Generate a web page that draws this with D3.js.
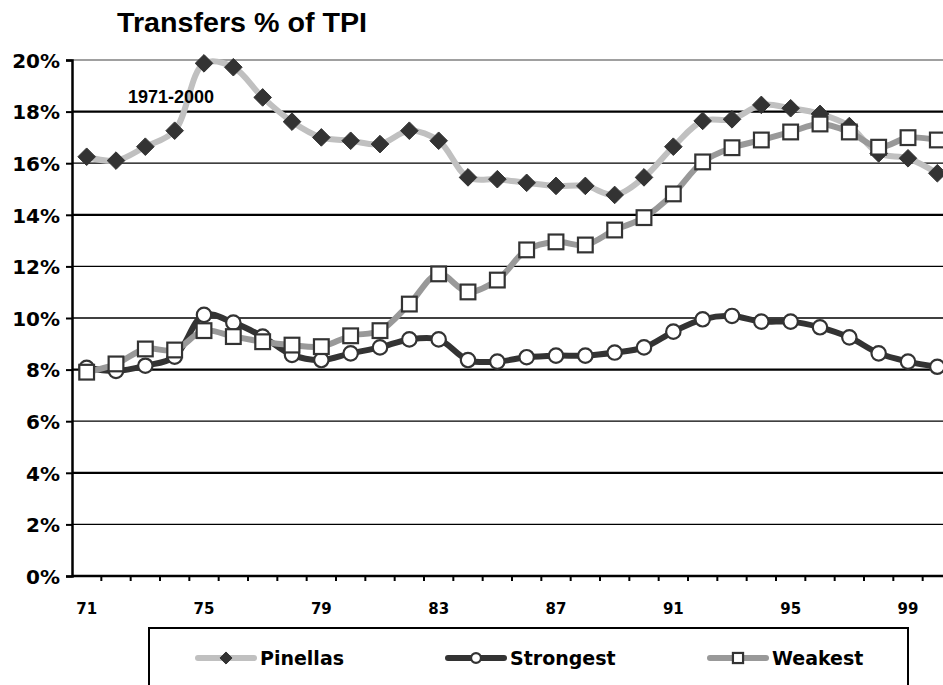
<!DOCTYPE html>
<html>
<head>
<meta charset="utf-8">
<script src="https://cdn.jsdelivr.net/npm/d3@7"></script>
<style>
  html, body { margin: 0; padding: 0; background: #fff; }
  svg { display: block; }
</style>
</head>
<body>
<svg id="chart" width="943" height="685"></svg>
<script>
// Years on the category axis (1971-2000) and which ones get a label
const years = d3.range(1971, 2001);
const yearLabels = [1971, 1975, 1979, 1983, 1987, 1991, 1995, 1999];
const yTicks = [0, 2, 4, 6, 8, 10, 12, 14, 16, 18, 20];

// Transfers as a percentage of total personal income
const pinellas = [16.25, 16.10, 16.64, 17.26, 19.87, 19.72, 18.55, 17.61, 17.00, 16.87,
                  16.74, 17.26, 16.87, 15.45, 15.38, 15.24, 15.12, 15.12, 14.77, 15.45,
                  16.64, 17.64, 17.70, 18.26, 18.13, 17.91, 17.44, 16.38, 16.19, 15.61];
const strongest = [8.07, 7.95, 8.15, 8.50, 10.12, 9.82, 9.28, 8.57, 8.37, 8.63,
                   8.86, 9.17, 9.17, 8.37, 8.31, 8.48, 8.54, 8.54, 8.66, 8.86,
                   9.47, 9.95, 10.08, 9.86, 9.86, 9.64, 9.25, 8.63, 8.31, 8.11];
const weakest = [7.90, 8.22, 8.80, 8.76, 9.51, 9.28, 9.08, 8.95, 8.89, 9.31,
                 9.51, 10.54, 11.71, 11.01, 11.47, 12.64, 12.95, 12.83, 13.41, 13.89,
                 14.81, 16.05, 16.60, 16.90, 17.21, 17.52, 17.21, 16.62, 16.99, 16.90];

const svg = d3.select("#chart");
const plotLeft = 72, plotRight = 952, plotTop = 60, plotBottom = 576;

const x = d3.scaleBand().domain(years).range([plotLeft, plotRight]).padding(0);
const y = d3.scaleLinear().domain([0, 20]).range([plotBottom, plotTop]);
const cx = d => x(d) + x.bandwidth() / 2;

const labelFont = "'DejaVu Sans', Verdana, sans-serif";
const titleFont = "'Liberation Sans', Arial, Helvetica, sans-serif";

// Horizontal gridlines
const thick = new Set([4, 8, 14, 18]);
svg.append("g").selectAll("line")
  .data(yTicks.filter(t => t > 0))
  .join("line")
  .attr("x1", plotLeft).attr("x2", 943)
  .attr("y1", d => y(d)).attr("y2", d => y(d))
  .attr("stroke", d => d === 20 ? "#808080" : "#000")
  .attr("stroke-width", d => d === 20 ? 1.5 : (thick.has(d) ? 2.2 : 1.3));

// Y axis with percentage labels
const yAxis = d3.axisLeft(y).tickValues(yTicks).tickSize(6).tickPadding(6)
  .tickFormat(d => d + "%");
const gy = svg.append("g").attr("transform", `translate(${plotLeft},0)`).call(yAxis);
gy.select(".domain").attr("stroke", "#000").attr("stroke-width", 2.5);
gy.selectAll(".tick line").attr("stroke", "#000").attr("stroke-width", 2);
gy.selectAll(".tick text")
  .attr("font-family", labelFont).attr("font-weight", "bold")
  .attr("font-size", 20).attr("fill", "#000").attr("dy", "0.36em");

// X axis: tick marks between years, labels every fourth year
svg.append("line")
  .attr("x1", plotLeft).attr("x2", 943).attr("y1", plotBottom).attr("y2", plotBottom)
  .attr("stroke", "#000").attr("stroke-width", 2.5);
svg.append("g").selectAll("line")
  .data(years.slice(1))
  .join("line")
  .attr("x1", d => x(d)).attr("x2", d => x(d))
  .attr("y1", plotBottom).attr("y2", plotBottom + 5)
  .attr("stroke", "#000").attr("stroke-width", 2);
const xAxis = d3.axisBottom(x).tickValues(yearLabels).tickSize(0).tickPadding(0)
  .tickFormat(d => String(d).slice(2));
const gx = svg.append("g").attr("transform", `translate(0,${plotBottom})`).call(xAxis);
gx.select(".domain").remove();
gx.selectAll(".tick text")
  .attr("font-family", labelFont).attr("font-weight", "bold")
  .attr("font-size", 15).attr("fill", "#000").attr("dy", null).attr("y", 38);

// Series definitions
const series = [
  { name: "Pinellas", values: pinellas, line: "#c0c0c0", marker: "diamond" },
  { name: "Strongest", values: strongest, line: "#333333", marker: "circle" },
  { name: "Weakest", values: weakest, line: "#999999", marker: "square" }
];

const line = d3.line()
  .x((d, i) => cx(years[i]))
  .y(d => y(d))
  .curve(d3.curveCatmullRom.alpha(0.5));

function drawMarker(g, type, size) {
  if (type === "diamond") {
    const h = size * 0.55;
    g.append("path")
      .attr("d", `M0,${-h}L${h},0L0,${h}L${-h},0Z`)
      .attr("fill", "#333").attr("stroke", "#333").attr("stroke-width", 1);
  } else if (type === "circle") {
    g.append("circle").attr("r", size * 0.45)
      .attr("fill", "#fff").attr("stroke", "#333").attr("stroke-width", 2.2);
  } else {
    const h = size * 0.46;
    g.append("rect").attr("x", -h).attr("y", -h).attr("width", 2 * h).attr("height", 2 * h)
      .attr("fill", "#fff").attr("stroke", "#333").attr("stroke-width", 2.2);
  }
}

const plot = svg.append("g");
series.forEach(s => {
  plot.append("path")
    .attr("d", line(s.values))
    .attr("fill", "none").attr("stroke", s.line)
    .attr("stroke-width", 6).attr("stroke-linejoin", "round");
  s.values.forEach((v, i) => {
    const g = plot.append("g").attr("transform", `translate(${cx(years[i])},${y(v)})`);
    drawMarker(g, s.marker, 16);
  });
});

// Title and period note
svg.append("text").attr("x", 117).attr("y", 32)
  .attr("font-family", titleFont).attr("font-weight", "bold").attr("font-size", 27)
  .attr("textLength", 250).attr("lengthAdjust", "spacingAndGlyphs")
  .text("Transfers % of TPI");
svg.append("text").attr("x", 128).attr("y", 103)
  .attr("font-family", titleFont).attr("font-weight", "bold").attr("font-size", 18)
  .text("1971-2000");

// Legend
svg.append("rect").attr("x", 149).attr("y", 628).attr("width", 759).attr("height", 80)
  .attr("fill", "#fff").attr("stroke", "#000").attr("stroke-width", 2);
const legendX = [198, 448, 710];
series.forEach((s, i) => {
  const g = svg.append("g").attr("transform", `translate(${legendX[i]},658)`);
  g.append("line").attr("x1", 0).attr("x2", 56).attr("y1", 0).attr("y2", 0)
    .attr("stroke", s.line).attr("stroke-width", 6).attr("stroke-linecap", "round");
  const m = g.append("g").attr("transform", "translate(28,0)");
  drawMarker(m, s.marker, 11);
  g.append("text").attr("x", 62).attr("y", 7)
    .attr("font-family", labelFont).attr("font-weight", "bold").attr("font-size", 19)
    .text(s.name);
});
</script>
</body>
</html>
